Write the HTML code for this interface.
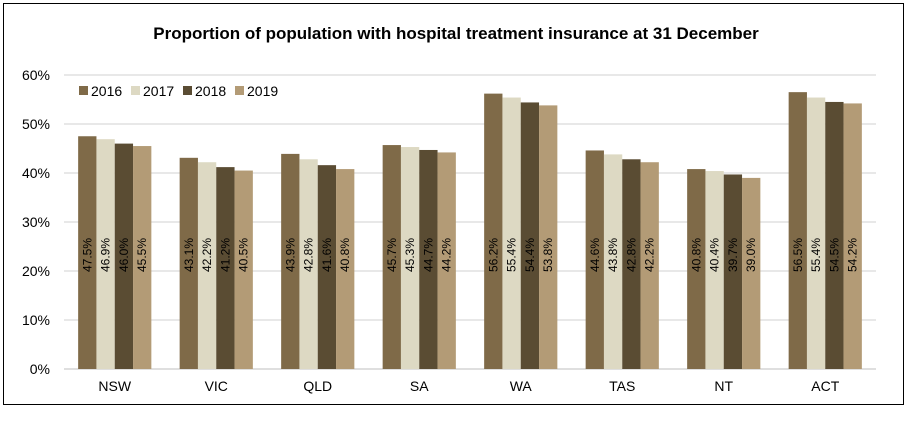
<!DOCTYPE html>
<html><head><meta charset="utf-8"><style>
body{margin:0;background:#fff;font-family:"Liberation Sans",Arial,sans-serif}
svg text{font-family:"Liberation Sans",Arial,sans-serif}
</style></head><body>
<svg width="911" height="419" id="c">
<rect x="3.5" y="3.5" width="900" height="401" fill="#fff" stroke="#000" stroke-width="1"/>
<text x="456" y="39" text-anchor="middle" font-size="17" font-weight="bold" transform="scale(1,1)">Proportion of population with hospital treatment insurance at 31 December</text>
<g id="grid"></g><g id="bars"></g><g id="labels"></g><g id="legend"></g>
</svg>
<script>
const categories=["NSW","VIC","QLD","SA","WA","TAS","NT","ACT"];
const years=["2016","2017","2018","2019"];
const s2016=[47.5,43.1,43.9,45.7,56.2,44.6,40.8,56.5];
const s2017=[46.9,42.2,42.8,45.3,55.4,43.8,40.4,55.4];
const s2018=[46.0,41.2,41.6,44.7,54.4,42.8,39.7,54.5];
const s2019=[45.5,40.5,40.8,44.2,53.8,42.2,39.0,54.2];
const ticks=[0,10,20,30,40,50,60];
const series=[s2016,s2017,s2018,s2019];
const colors=["#7f6a48","#ddd9c3","#5a4c33","#b39b76"];
const NS="http://www.w3.org/2000/svg";
const x0=64,x1=876,y0=369,y60=75;
const y=v=>y0-(v/60)*(y0-y60);
const cw=(x1-x0)/categories.length,bw=18.3;
function mk(t,a,p){const e=document.createElementNS(NS,t);for(const k in a)e.setAttribute(k,a[k]);p.appendChild(e);return e;}
const g=document.getElementById('grid'),b=document.getElementById('bars'),l=document.getElementById('labels'),lg=document.getElementById('legend');
ticks.forEach(t=>{
 const ln=mk('line',{x1:x0,x2:x1,y1:y(t),y2:y(t),stroke:t==0?'#bfbfbf':'#d0d0d0','stroke-width':1},g);
 
 
 const tx=mk('text',{x:50,y:y(t)+5,'text-anchor':'end','font-size':14},g);
 tx.textContent=t+'%';
 
 
});
categories.forEach((c,i)=>{
 const cx=x0+cw*(i+0.5);
 const tx=mk('text',{x:cx,y:391,'text-anchor':'middle','font-size':14},g);
 tx.textContent=c;
 
 
 series.forEach((s,j)=>{
  const bx=cx-2*bw+j*bw;
  const r=mk('rect',{x:bx,y:y(s[i]),width:bw,height:y0-y(s[i]),fill:colors[j]},b);
  
  
  const lx=bx+bw/2+4,ly=255;
  const t=mk('text',{x:lx,y:ly,'text-anchor':'middle','font-size':12,transform:`rotate(-90 ${lx} ${ly})`},l);
  t.textContent=s[i].toFixed(1)+'%';
  
  
 });
});
years.forEach((yr,j)=>{
 const lx=79+j*52;
 const r=mk('rect',{x:lx,y:86,width:9,height:9,fill:colors[j]},lg);
 
 
 const t=mk('text',{x:lx+12,y:96,'font-size':14},lg);
 t.textContent=yr;
 
 
});
</script>
</body></html>
